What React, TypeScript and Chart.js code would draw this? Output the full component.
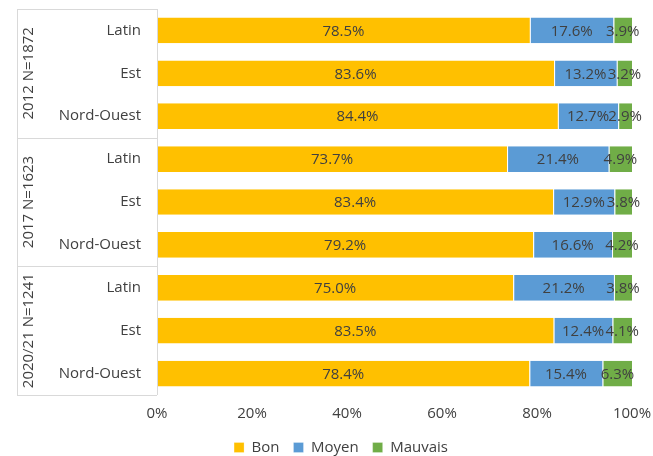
import React, { useRef, useEffect } from 'react';
import { Chart, registerables } from 'chart.js';

Chart.register(...registerables);

// Data
const categories = [
  'Latin', 'Est', 'Nord-Ouest',
  'Latin', 'Est', 'Nord-Ouest',
  'Latin', 'Est', 'Nord-Ouest',
];
const groups = ['2012 N=1872', '2017 N=1623', '2020/21 N=1241'];
const groupSize = 3;

const bon = [78.5, 83.6, 84.4, 73.7, 83.4, 79.2, 75.0, 83.5, 78.4];
const moyen = [17.6, 13.2, 12.7, 21.4, 12.9, 16.6, 21.2, 12.4, 15.4];
const mauvais = [3.9, 3.2, 2.9, 4.9, 3.8, 4.2, 3.8, 4.1, 6.3];

const seriesNames = ['Bon', 'Moyen', 'Mauvais'];
const seriesColors = ['#FFC000', '#5B9BD5', '#70AD47'];
const xTicks = [0, 20, 40, 60, 80, 100];

const FONT = '"Open Sans", sans-serif';
const TEXT = '#404040';

// draws value labels in the middle of each bar segment
const valueLabels = {
  id: 'valueLabels',
  afterDatasetsDraw(chart: any) {
    const ctx = chart.ctx;
    ctx.save();
    ctx.font = `15px ${FONT}`;
    ctx.fillStyle = TEXT;
    ctx.textAlign = 'center';
    ctx.textBaseline = 'middle';
    chart.data.datasets.forEach((ds: any, i: number) => {
      const meta = chart.getDatasetMeta(i);
      meta.data.forEach((bar: any, j: number) => {
        const v = ds.data[j];
        const cx = (bar.x + bar.base) / 2;
        ctx.fillText(v.toFixed(1) + '%', cx, bar.y + 1);
      });
    });
    ctx.restore();
  },
};

// draws the outer group box and rotated group labels
const groupAxis = {
  id: 'groupAxis',
  afterDraw(chart: any) {
    const ctx = chart.ctx;
    const y = chart.scales.y;
    const area = chart.chartArea;
    const left = 17;
    const right = area.left;
    const half = (y.getPixelForValue(1) - y.getPixelForValue(0)) / 2;
    ctx.save();
    ctx.strokeStyle = '#d9d9d9';
    ctx.lineWidth = 1;
    ctx.beginPath();
    ctx.moveTo(left + 0.5, area.top);
    ctx.lineTo(left + 0.5, area.bottom);
    ctx.moveTo(right + 0.5, area.top);
    ctx.lineTo(right + 0.5, area.bottom);
    for (let g = 0; g <= groups.length; g++) {
      const idx = g * groupSize;
      const py = idx < categories.length
        ? y.getPixelForValue(idx) - half
        : y.getPixelForValue(categories.length - 1) + half;
      ctx.moveTo(left, Math.round(py) + 0.5);
      ctx.lineTo(right, Math.round(py) + 0.5);
    }
    ctx.stroke();

    ctx.font = `15px ${FONT}`;
    ctx.fillStyle = TEXT;
    ctx.textAlign = 'center';
    ctx.textBaseline = 'middle';
    groups.forEach((name, g) => {
      const a = y.getPixelForValue(g * groupSize);
      const b = y.getPixelForValue(g * groupSize + groupSize - 1);
      const cy = (a + b) / 2;
      ctx.save();
      ctx.translate(29, cy);
      ctx.rotate(-Math.PI / 2);
      ctx.fillText(name, 0, 0);
      ctx.restore();
    });
    ctx.restore();
  },
};

const App: React.FC = () => {
  const canvasRef = useRef<HTMLCanvasElement>(null);

  useEffect(() => {
    if (!canvasRef.current) return;
    const values = [bon, moyen, mauvais];
    const chart = new Chart(canvasRef.current, {
      type: 'bar',
      data: {
        labels: categories,
        datasets: seriesNames.map((name, i) => ({
          label: name,
          data: values[i],
          backgroundColor: seriesColors[i],
          borderColor: '#ffffff',
          borderWidth: { left: 1, right: 0, top: 0, bottom: 0 },
          borderSkipped: false,
          categoryPercentage: 1,
          barPercentage: 0.6,
        })),
      },
      options: {
        indexAxis: 'y',
        animation: false,
        responsive: false,
        maintainAspectRatio: false,
        // left padding also centres the legend where the reference has it
        layout: { padding: { top: 9, right: 21, left: 50, bottom: -9 } },
        scales: {
          x: {
            stacked: true,
            min: 0,
            max: 100,
            afterBuildTicks: (scale: any) => {
              scale.ticks = xTicks.map((v) => ({ value: v }));
            },
            afterFit: (scale: any) => {
              scale.height = 31;
              scale.paddingLeft = 0;
              scale.paddingRight = 0;
            },
            grid: { display: false, drawTicks: false },
            border: { display: false },
            ticks: {
              padding: 10,
              color: TEXT,
              font: { family: FONT, size: 15 },
              callback: (v: any) => v + '%',
            },
          },
          y: {
            stacked: true,
            afterFit: (scale: any) => {
              scale.width = 107;
              scale.paddingTop = 0;
              scale.paddingBottom = 0;
            },
            grid: { display: false, drawTicks: false },
            border: { display: false },
            ticks: {
              padding: 16,
              color: TEXT,
              font: { family: FONT, size: 15 },
            },
          },
        },
        plugins: {
          legend: {
            position: 'bottom',
            labels: {
              color: TEXT,
              font: { family: FONT, size: 15 },
              boxWidth: 10,
              boxHeight: 10,
              padding: 14,
            },
          },
          tooltip: { enabled: false },
        },
      },
      plugins: [valueLabels, groupAxis],
    });
    return () => chart.destroy();
  }, []);

  return (
    <div style={{ position: 'fixed', left: 0, top: 0, width: 653, height: 456, background: '#fff' }}>
      <canvas ref={canvasRef} width={653} height={456} style={{ width: 653, height: 456 }} />
    </div>
  );
};

export default App;
